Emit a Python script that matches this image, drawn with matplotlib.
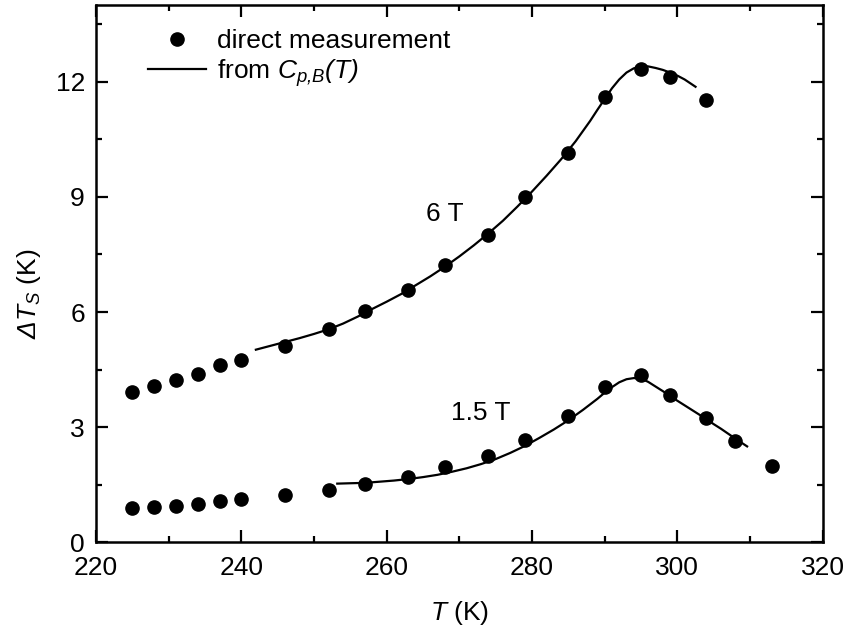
import matplotlib
matplotlib.use('Agg')
import matplotlib.pyplot as plt
from matplotlib.ticker import MultipleLocator

plt.rcParams['font.family'] = ['Liberation Sans', 'DejaVu Sans']
plt.rcParams['mathtext.fontset'] = 'custom'
# all math text in this figure is italic (also the Delta)
plt.rcParams['mathtext.rm'] = 'Liberation Sans:italic'
plt.rcParams['mathtext.it'] = 'Liberation Sans:italic'

# direct measurement points
T_pts = [225, 228, 231, 234, 237, 240, 246, 252, 257, 263, 268, 274, 279, 285, 290, 295, 299, 304]
dT_6T = [3.93, 4.08, 4.24, 4.39, 4.61, 4.75, 5.12, 5.56, 6.03, 6.58, 7.22, 8.0, 9.01, 10.15, 11.6, 12.33, 12.12, 11.52]

T_pts15 = [225, 228, 231, 234, 237, 240, 246, 252, 257, 263, 268, 274, 279, 285, 290, 295, 299, 304, 308, 313]
dT_15T = [0.89, 0.91, 0.96, 1.0, 1.07, 1.12, 1.23, 1.37, 1.53, 1.71, 1.96, 2.25, 2.67, 3.28, 4.06, 4.36, 3.85, 3.24, 2.63, 2.0]

# curves from Cp,B(T)
T_c6 = [242, 244, 246, 248, 250, 252, 254, 256, 258, 260, 262, 264, 266, 268, 270, 272, 274, 276, 278, 280,
        282, 284, 286, 288, 289, 290, 291, 292, 293, 294, 295, 296, 297, 298, 299, 300, 301, 302.5]
dT_c6 = [5.02, 5.12, 5.22, 5.32, 5.43, 5.55, 5.70, 5.88, 6.08, 6.27, 6.47, 6.70, 6.93, 7.18, 7.45, 7.74, 8.05, 8.38, 8.75, 9.14,
         9.55, 9.98, 10.45, 10.98, 11.27, 11.55, 11.83, 12.06, 12.24, 12.35, 12.40, 12.40, 12.36, 12.31, 12.24, 12.16, 12.06, 11.87]

T_c15 = [253.2, 255, 257, 259, 261, 263, 265, 267, 269, 271, 273, 275, 277, 279, 281, 283, 285, 287, 289, 290.5,
         292, 293, 294, 295, 296, 297, 298, 299, 300, 301, 302, 303, 304, 305, 306, 307, 308, 309.6]
dT_c15 = [1.53, 1.54, 1.55, 1.58, 1.61, 1.65, 1.70, 1.76, 1.84, 1.93, 2.04, 2.17, 2.33, 2.51, 2.72, 2.94, 3.18, 3.45, 3.74, 3.98,
          4.17, 4.25, 4.28, 4.27, 4.18, 4.06, 3.94, 3.81, 3.69, 3.57, 3.45, 3.33, 3.21, 3.08, 2.96, 2.83, 2.70, 2.50]

fig = plt.figure(figsize=(8.45, 6.27), dpi=100)
ax = fig.add_axes([0.1136, 0.135, 0.86, 0.857])

ax.plot(T_pts, dT_6T, 'o', color='black', markersize=9.5, label='direct measurement')
ax.plot(T_c6, dT_c6, '-', color='black', lw=1.6, label=r'from $C_{p{,}B}(T)$')
ax.plot(T_pts15, dT_15T, 'o', color='black', markersize=9.5)
ax.plot(T_c15, dT_c15, '-', color='black', lw=1.6)

ax.text(268, 8.55, '6 T', fontsize=19, ha='center', va='center')
ax.text(272.9, 3.37, '1.5 T', fontsize=19, ha='center', va='center')

ax.set_xlim(220, 320)
ax.set_ylim(0, 14)
ax.xaxis.set_major_locator(MultipleLocator(20))
ax.xaxis.set_minor_locator(MultipleLocator(10))
ax.yaxis.set_major_locator(MultipleLocator(3))
ax.yaxis.set_minor_locator(MultipleLocator(1.5))
ax.tick_params(which='both', direction='in', top=True, right=True, width=1.6, labelsize=19)
ax.tick_params(which='major', length=8.5)
ax.tick_params(which='minor', length=4.5)
ax.tick_params(axis='x', which='major', pad=10)
ax.tick_params(axis='y', which='major', pad=8)
for s in ax.spines.values():
    s.set_linewidth(1.8)

ax.set_xlabel(r'$T$ (K)', fontsize=19)
ax.set_ylabel(r'$\Delta T_{S}$ (K)', fontsize=19)
ax.yaxis.set_label_coords(-0.073, 0.463)
ax.xaxis.set_label_coords(0.5, -0.105)

ax.legend(loc='upper left', bbox_to_anchor=(0.046, 0.99), frameon=False, fontsize=19,
          numpoints=1, handlelength=2.2, handletextpad=0.4, labelspacing=0.15, borderaxespad=0.3)

fig.savefig('out.png', dpi=100)
